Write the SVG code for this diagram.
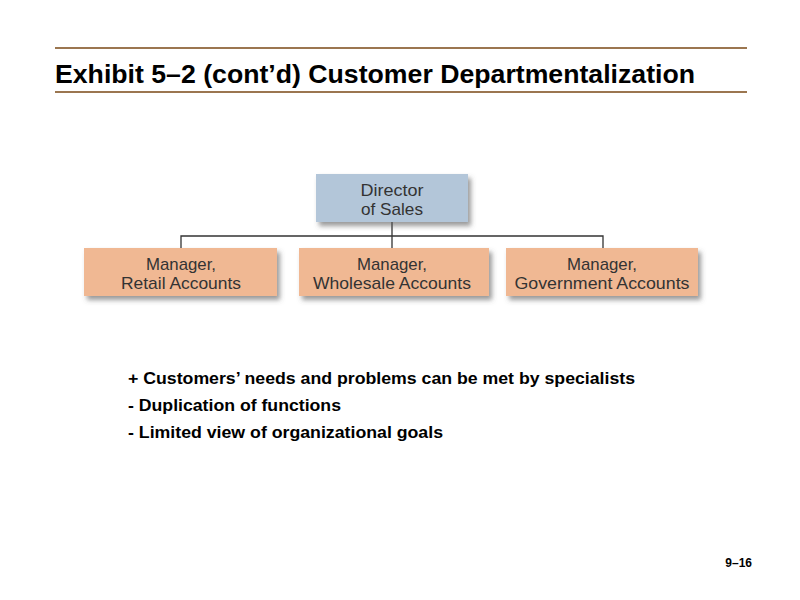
<svg xmlns="http://www.w3.org/2000/svg" width="800" height="600" viewBox="0 0 800 600">
<defs>
<style>
.rule{stroke:#9b7650;stroke-width:2}
.title{font-family:"Liberation Sans",Arial,sans-serif;font-weight:bold;font-size:26px;fill:#000}
.lbl{font-family:"Liberation Sans",Arial,sans-serif;font-size:17px;fill:#333;text-anchor:middle}
.bul{font-family:"Liberation Sans",Arial,sans-serif;font-weight:bold;font-size:16px;fill:#000}
.dir{fill:#b3c6d9}
.mgr{fill:#f0b893}
.conn{stroke:#333;stroke-width:1.3;fill:none}
</style>
<filter id="sh" x="-10%" y="-20%" width="130%" height="160%">
<feDropShadow dx="3" dy="4" stdDeviation="2.5" flood-color="#555" flood-opacity="0.6"/>
</filter>
</defs>
<rect width="800" height="600" fill="#fff"/>
<line class="rule" x1="55" y1="48" x2="747" y2="48"/>
<line class="rule" x1="55" y1="92" x2="747" y2="92"/>
<text class="title" x="55" y="83" textLength="640" lengthAdjust="spacingAndGlyphs">Exhibit 5–2 (cont’d) Customer Departmentalization</text>
<g id="connectors">
<path class="conn" d="M392 222V248M181 248V236H603V248"/>
</g>
<g id="director">
<rect class="dir" x="316" y="174" width="152" height="48" filter="url(#sh)"/>
<text class="lbl" x="392" y="196" textLength="63" lengthAdjust="spacingAndGlyphs">Director</text>
<text class="lbl" x="392" y="215" textLength="62" lengthAdjust="spacingAndGlyphs">of Sales</text>
</g>
<g id="retail">
<rect class="mgr" x="84" y="248" width="193" height="48" filter="url(#sh)"/>
<text class="lbl" x="181" y="270" textLength="70" lengthAdjust="spacingAndGlyphs">Manager,</text>
<text class="lbl" x="181" y="289" textLength="120" lengthAdjust="spacingAndGlyphs">Retail Accounts</text>
</g>
<g id="wholesale">
<rect class="mgr" x="299" y="248" width="190" height="48" filter="url(#sh)"/>
<text class="lbl" x="392" y="270" textLength="70" lengthAdjust="spacingAndGlyphs">Manager,</text>
<text class="lbl" x="392" y="289" textLength="158" lengthAdjust="spacingAndGlyphs">Wholesale Accounts</text>
</g>
<g id="government">
<rect class="mgr" x="506" y="248" width="192" height="48" filter="url(#sh)"/>
<text class="lbl" x="602" y="270" textLength="70" lengthAdjust="spacingAndGlyphs">Manager,</text>
<text class="lbl" x="602" y="289" textLength="175" lengthAdjust="spacingAndGlyphs">Government Accounts</text>
</g>
<text class="bul" x="128" y="384" textLength="507" lengthAdjust="spacingAndGlyphs">+ Customers’ needs and problems can be met by specialists</text>
<text class="bul" x="128" y="411" textLength="213" lengthAdjust="spacingAndGlyphs">- Duplication of functions</text>
<text class="bul" x="128" y="438" textLength="315" lengthAdjust="spacingAndGlyphs">- Limited view of organizational goals</text>
<text x="752" y="567" text-anchor="end" style="font-family:'Liberation Sans',Arial,sans-serif;font-weight:bold;font-size:12px">9–16</text>
</svg>
